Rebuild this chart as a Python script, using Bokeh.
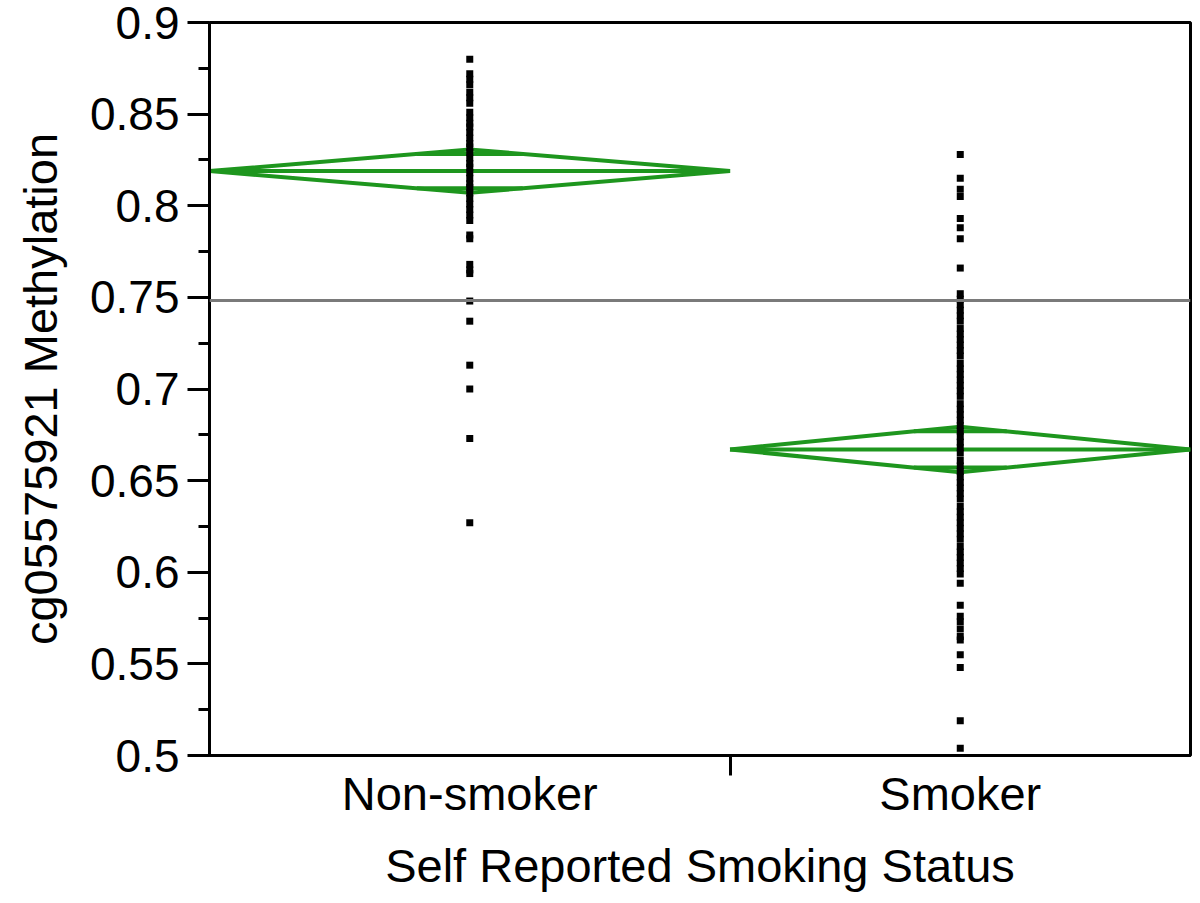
from bokeh.plotting import figure
from bokeh.models import Range1d, FixedTicker, Span, ColumnDataSource
from bokeh.embed import file_html
from bokeh.resources import INLINE

# ---- data ----
groups = ["Non-smoker", "Smoker"]
group_n = [52, 46]                 # relative sample sizes (diamond widths)
group_mean = [0.8189, 0.6670]
group_ci_half = [0.0118, 0.0124]
group_overlap_half = [0.0094, 0.0099]
grand_mean = 0.7483

nonsmoker_vals = [0.880, 0.872, 0.869, 0.866, 0.862, 0.859, 0.856, 0.851, 0.848,
                  0.845, 0.843, 0.840, 0.837, 0.834, 0.832, 0.829, 0.826, 0.823,
                  0.821, 0.818, 0.815, 0.812, 0.810, 0.807, 0.804, 0.801, 0.798,
                  0.795, 0.792, 0.784, 0.782, 0.768, 0.765, 0.763, 0.748, 0.737,
                  0.713, 0.700, 0.673, 0.627]
smoker_vals = [0.828, 0.815, 0.809, 0.805, 0.793, 0.788, 0.782, 0.766,
               0.752, 0.749, 0.746, 0.743, 0.740, 0.737, 0.733, 0.730, 0.727,
               0.724, 0.721, 0.718, 0.714, 0.711, 0.708, 0.705, 0.702, 0.699,
               0.696, 0.692, 0.689, 0.686, 0.683, 0.680, 0.677, 0.674, 0.671,
               0.668, 0.665, 0.661, 0.658, 0.655, 0.652, 0.649, 0.646, 0.643,
               0.640, 0.636, 0.633, 0.630, 0.627, 0.624, 0.621, 0.618, 0.614,
               0.611, 0.608, 0.605, 0.602, 0.599, 0.594, 0.582, 0.576, 0.573,
               0.569, 0.565, 0.563, 0.555, 0.548, 0.519, 0.504]

y_ticks = [0.5, 0.55, 0.6, 0.65, 0.7, 0.75, 0.8, 0.85, 0.9]
y_tick_labels = ["0.5", "0.55", "0.6", "0.65", "0.7", "0.75", "0.8", "0.85", "0.9"]
y_minor = [0.525, 0.575, 0.625, 0.675, 0.725, 0.775, 0.825, 0.875]

FONT = "Liberation Sans"
GREEN = "#1e961e"

# ---- group geometry from sample sizes ----
starts, ends = [], []
acc = 0
for n in group_n:
    starts.append(acc)
    acc += n
    ends.append(acc)
total = acc
centers = [(s + e) / 2 for s, e in zip(starts, ends)]

p = figure(width=1192, height=895, output_backend="svg", toolbar_location=None,
           x_range=Range1d(0, total), y_range=Range1d(0.5, 0.9),
           min_border_left=209, min_border_right=2, min_border_top=22,
           min_border_bottom=140)
p.grid.visible = False
p.background_fill_color = "white"
p.border_fill_color = "white"
p.outline_line_color = "black"
p.outline_line_width = 3

# grand mean
p.add_layout(Span(location=grand_mean, dimension="width", line_color="#7a7a7a",
                  line_width=3))

# diamonds
for s, e, c, m, h, o in zip(starts, ends, centers, group_mean, group_ci_half,
                            group_overlap_half):
    hw = (e - s) / 2
    p.line([s, c, e, c, s], [m, m + h, m, m - h, m], line_color=GREEN,
           line_width=4, line_join="miter")
    p.line([s, e], [m, m], line_color=GREEN, line_width=4)
    frac = 1 - o / h
    for yy in (m + o, m - o):
        p.line([c - hw * frac, c + hw * frac], [yy, yy], line_color=GREEN,
               line_width=4)

# points
src = ColumnDataSource(dict(
    x=[centers[0]] * len(nonsmoker_vals) + [centers[1]] * len(smoker_vals),
    y=nonsmoker_vals + smoker_vals))
p.scatter("x", "y", source=src, marker="square", size=7, fill_color="black",
          line_color=None)

# y axis
ya = p.yaxis[0]
ya.ticker = FixedTicker(ticks=y_ticks, minor_ticks=y_minor)
ya.major_label_overrides = {t: l for t, l in zip(y_ticks, y_tick_labels)}
ya.axis_line_width = 3
ya.major_tick_line_width = 3
ya.minor_tick_line_width = 3
ya.major_tick_out = 22
ya.major_tick_in = 0
ya.minor_tick_out = 11
ya.minor_tick_in = 0
ya.major_label_text_font = FONT
ya.major_label_text_font_size = "46px"
ya.major_label_text_color = "black"
ya.major_label_standoff = 8
ya.axis_label = "cg05575921 Methylation"
ya.axis_label_text_font = FONT
ya.axis_label_text_font_size = "47px"
ya.axis_label_text_font_style = "normal"
ya.axis_label_text_color = "black"
ya.axis_label_standoff = 20

# x axis
xa = p.xaxis[0]
xa.ticker = FixedTicker(ticks=centers, minor_ticks=[ends[0]])
xa.major_label_overrides = {c: g for c, g in zip(centers, groups)}
xa.axis_line_width = 3
xa.major_tick_out = 0
xa.major_tick_in = 0
xa.minor_tick_out = 20
xa.minor_tick_in = 0
xa.minor_tick_line_width = 3
xa.major_label_text_font = FONT
xa.major_label_text_font_size = "47px"
xa.major_label_text_color = "black"
xa.major_label_standoff = -9
xa.axis_label = "Self Reported Smoking Status"
xa.axis_label_text_font = FONT
xa.axis_label_text_font_size = "47px"
xa.axis_label_text_font_style = "normal"
xa.axis_label_text_color = "black"
xa.axis_label_standoff = 16

open("out.html", "w").write(file_html(p, INLINE))
